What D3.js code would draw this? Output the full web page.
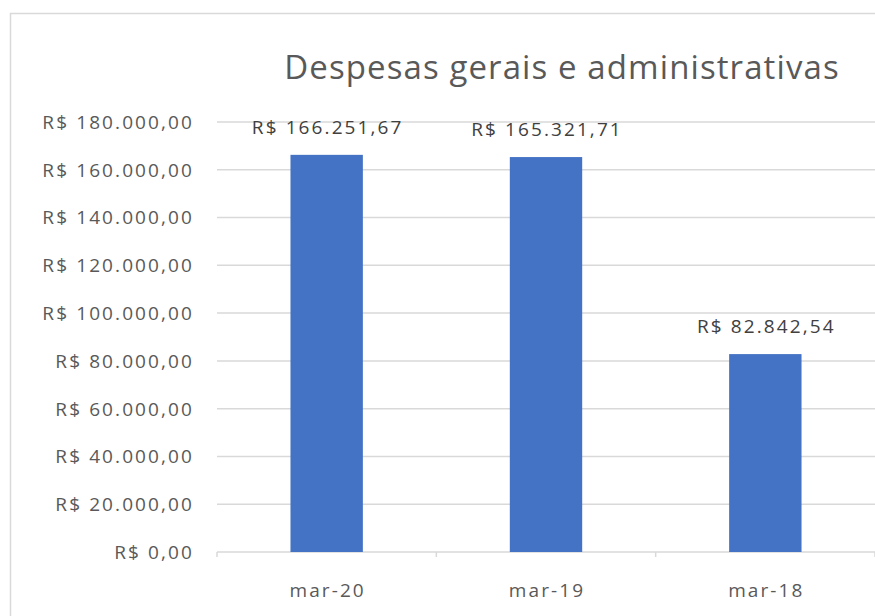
<!DOCTYPE html>
<html>
<head>
<meta charset="utf-8">
<script src="https://cdn.jsdelivr.net/npm/d3@7"></script>
<style>
  body { margin: 0; background: #fff; }
  svg { display: block; }
</style>
</head>
<body>
<div id="chart"></div>
<script>
// Despesas gerais e administrativas - column chart
const categories = ["mar-20", "mar-19", "mar-18"];
const values = [166251.67, 165321.71, 82842.54];
const labels = ["R$ 166.251,67", "R$ 165.321,71", "R$ 82.842,54"];
const yTicks = [0, 20000, 40000, 60000, 80000, 100000, 120000, 140000, 160000, 180000];

const width = 875, height = 616;
const plot = {left: 217, right: 875, top: 122, bottom: 552};
const labelFont = {family: "'Open Sans', sans-serif", size: "19px", spacing: "2.1px"};

const svg = d3.select("#chart")
  .append("svg")
  .attr("width", width)
  .attr("height", height);

// chart border (runs off the right and bottom of the picture)
svg.append("rect")
  .attr("x", 10.5)
  .attr("y", 13.5)
  .attr("width", 900)
  .attr("height", 700)
  .attr("fill", "#fff")
  .attr("stroke", "#d9d9d9")
  .attr("stroke-width", 1.5);

const x = d3.scaleBand()
  .domain(categories)
  .range([plot.left, plot.right])
  .padding(0);

const y = d3.scaleLinear()
  .domain([0, 180000])
  .range([plot.bottom, plot.top]);

const fmt = v => "R$ " + d3.format(",.2f")(v).replace(/,/g, "X").replace(".", ",").replace(/X/g, ".");

const styleText = sel => sel
  .style("font-family", labelFont.family)
  .style("font-size", labelFont.size)
  .style("letter-spacing", labelFont.spacing);

// gridlines
svg.selectAll(".grid")
  .data(yTicks)
  .enter()
  .append("line")
  .attr("class", "grid")
  .attr("x1", plot.left)
  .attr("x2", plot.right)
  .attr("y1", d => y(d))
  .attr("y2", d => y(d))
  .attr("stroke", "#d9d9d9")
  .attr("stroke-width", 1.5);

// y tick labels
svg.selectAll(".ylab")
  .data(yTicks)
  .enter()
  .append("text")
  .attr("class", "ylab")
  .attr("x", 194)
  .attr("y", d => y(d))
  .attr("dy", "0.36em")
  .attr("text-anchor", "end")
  .attr("fill", "#595959")
  .call(styleText)
  .text(fmt);

// category tick marks at band edges
const edges = categories.map(c => x(c)).concat([plot.right]);
svg.selectAll(".xtick")
  .data(edges)
  .enter()
  .append("line")
  .attr("class", "xtick")
  .attr("x1", d => d)
  .attr("x2", d => d)
  .attr("y1", plot.bottom)
  .attr("y2", plot.bottom + 5)
  .attr("stroke", "#d9d9d9")
  .attr("stroke-width", 1.5);

// bars
const barW = x.bandwidth() * 0.33;
svg.selectAll(".bar")
  .data(values)
  .enter()
  .append("rect")
  .attr("class", "bar")
  .attr("x", (d, i) => x(categories[i]) + (x.bandwidth() - barW) / 2)
  .attr("y", d => y(d))
  .attr("width", barW)
  .attr("height", d => y(0) - y(d))
  .attr("fill", "#4472c4");

// value labels
svg.selectAll(".vlab")
  .data(values)
  .enter()
  .append("text")
  .attr("class", "vlab")
  .attr("x", (d, i) => x(categories[i]) + x.bandwidth() / 2 + 1)
  .attr("y", d => y(d) - 21)
  .attr("text-anchor", "middle")
  .attr("fill", "#404040")
  .call(styleText)
  .text((d, i) => labels[i]);

// category labels
svg.selectAll(".xlab")
  .data(categories)
  .enter()
  .append("text")
  .attr("class", "xlab")
  .attr("x", d => x(d) + x.bandwidth() / 2 + 1)
  .attr("y", 597)
  .attr("text-anchor", "middle")
  .attr("fill", "#595959")
  .call(styleText)
  .text(d => d);

// title
svg.append("text")
  .attr("x", 562)
  .attr("y", 79)
  .attr("text-anchor", "middle")
  .attr("fill", "#595959")
  .style("font-family", "'Open Sans', sans-serif")
  .style("font-size", "33px")
  .style("letter-spacing", "1.1px")
  .text("Despesas gerais e administrativas");
</script>
</body>
</html>
